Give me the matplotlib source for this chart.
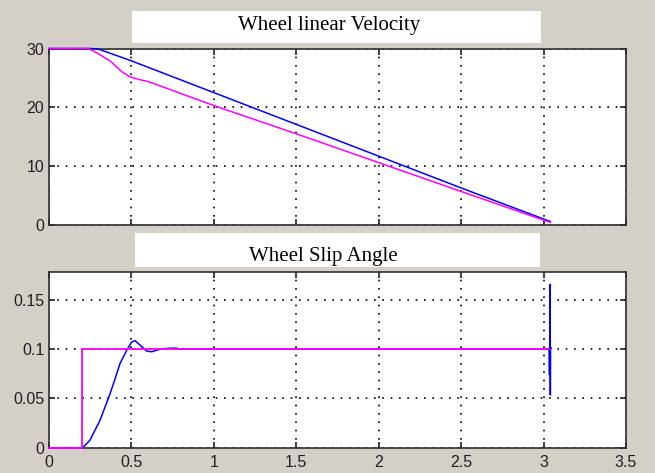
import numpy as np
import matplotlib
matplotlib.use("Agg")
import matplotlib.pyplot as plt
from matplotlib.patches import Rectangle

# Datos

# velocidad lineal de la rueda (azul)
t_vel_azul = [0, 0.25, 0.30, 0.5, 1.0, 1.5, 2.0, 2.5, 3.04]
vel_azul = [30, 30, 29.9, 27.9, 22.5, 17.1, 11.7, 6.3, 0.6]

# velocidad lineal de la rueda (magenta)
t_vel_mag = [0, 0.24, 0.30, 0.37, 0.44, 0.49, 0.55, 0.60, 1.0, 1.5, 2.0, 2.5, 3.04]
vel_mag = [30, 30, 29.1, 27.9, 26.1, 25.2, 24.7, 24.4, 20.3, 15.5, 10.6, 5.7, 0.45]

# angulo de deslizamiento (azul)
t_slip_azul = [0, 0.205, 0.249, 0.31, 0.371, 0.401, 0.431, 0.472, 0.502, 0.522,
               0.553, 0.593, 0.624, 0.655, 0.686, 0.735, 0.776, 0.78, 3.034,
               3.036, 3.037, 3.040, 3.041, 3.042, 3.046]
slip_azul = [0, 0, 0.0078, 0.028, 0.055, 0.070, 0.0855, 0.099, 0.1074, 0.1085,
             0.104, 0.098, 0.0973, 0.099, 0.1003, 0.1009, 0.1009, 0.1, 0.1,
             0.074, 0.1, 0.1656, 0.0534, 0.1, 0.1012]

# angulo de deslizamiento (magenta)
t_slip_mag = [0, 0.2, 0.2, 3.03]
slip_mag = [0, 0, 0.1, 0.1]

titulos = ["Wheel linear Velocity", "Wheel Slip Angle"]
x_ticks = [0, 0.5, 1, 1.5, 2, 2.5, 3, 3.5]
x_labels = ["0", "0.5", "1", "1.5", "2", "2.5", "3", "3.5"]
y_ticks_vel = [0, 10, 20, 30]
y_ticks_slip = [0, 0.05, 0.1, 0.15]
y_labels_slip = ["0", "0.05", "0.1", "0.15"]

AZUL = "#0000ff"
MAGENTA = "#ff00ff"
FONDO = "#d4d0c8"

W, H = 655, 473
fig = plt.figure(figsize=(W / 100, H / 100), dpi=100, facecolor=FONDO)

ax1 = fig.add_axes([49 / W, 1 - 225 / H, 577 / W, 176.5 / H])
ax2 = fig.add_axes([49 / W, 1 - 447.7 / H, 577 / W, 176 / H])


def estilo(ax):
    # estilo tipo MATLAB
    ax.set_facecolor("white")
    ax.set_xlim(0, 3.5)
    ax.set_xticks(x_ticks)
    ax.grid(True, color="black", linestyle=(0, (1.0, 4.0)), linewidth=1.2)
    ax.tick_params(direction="in", length=4.5, width=1.2, top=True, right=True,
                   labelsize=11.5, colors="#202020")
    ax.tick_params(axis="x", pad=5)
    for s in ax.spines.values():
        s.set_color("#303030")
        s.set_linewidth(1.2)


# GRAFICA SUPERIOR
ax1.plot(t_vel_azul, vel_azul, color=AZUL, linewidth=1.1, clip_on=False, zorder=3)
ax1.plot(t_vel_mag, vel_mag, color=MAGENTA, linewidth=1.1, clip_on=False, zorder=3)
ax1.set_ylim(0, 30)
ax1.set_yticks(y_ticks_vel)
estilo(ax1)
ax1.set_xticklabels([])

# GRAFICA INFERIOR
ax2.plot(t_slip_azul, slip_azul, color=AZUL, linewidth=1.1, clip_on=False, zorder=3)
ax2.plot(t_slip_mag, slip_mag, color=MAGENTA, linewidth=1.3, clip_on=False, zorder=3)
ax2.set_ylim(0, 0.1785)
ax2.set_yticks(y_ticks_slip)
ax2.set_yticklabels(y_labels_slip)
estilo(ax2)
ax2.set_xticklabels(x_labels)

for ax in (ax1, ax2):
    for lbl in ax.get_xticklabels() + ax.get_yticklabels():
        lbl.set_family("Liberation Sans")

# CAJAS DE TITULO
cajas = [(132, 11.5, 541, 43.3, 329, 25.5), (135, 233.3, 540, 267.3, 323, 256.5)]
for (x0, y0, x1, y1, xc, yc), titulo in zip(cajas, titulos):
    fig.patches.append(Rectangle((x0 / W, 1 - y1 / H), (x1 - x0) / W, (y1 - y0) / H,
                                 transform=fig.transFigure, facecolor="white",
                                 edgecolor="none", zorder=0))
    fig.text(xc / W, 1 - yc / H, titulo, ha="center", va="center",
             family="Liberation Serif", fontsize=15, color="black")

fig.savefig("out.png", dpi=100, facecolor=FONDO)
